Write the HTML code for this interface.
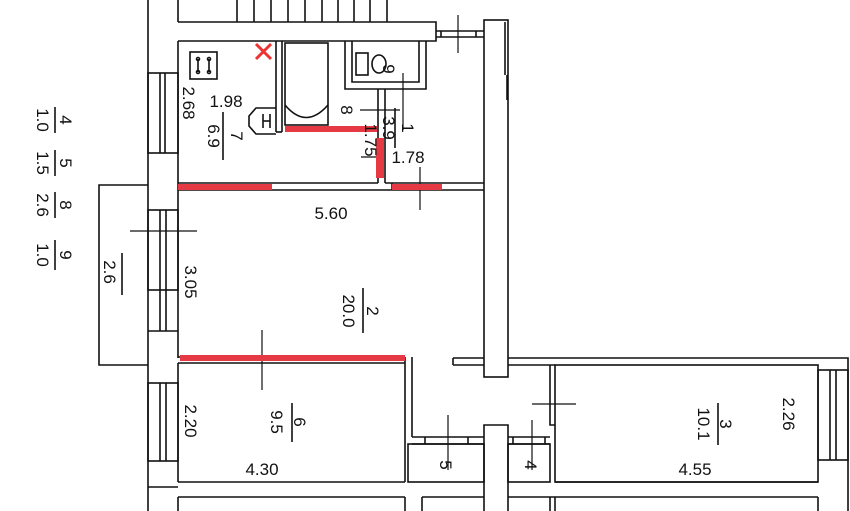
<!DOCTYPE html>
<html><head><meta charset="utf-8"><style>
html,body{margin:0;padding:0;background:#fff;}
svg{display:block;}
text{font-family:"Liberation Sans",sans-serif;fill:#111;}
</style></head><body>
<svg width="850" height="511" viewBox="0 0 850 511" xmlns="http://www.w3.org/2000/svg">
<g fill="none" stroke="#111" stroke-width="1.6">
<line x1="237" y1="0" x2="237" y2="22"/><line x1="254" y1="0" x2="254" y2="22"/><line x1="271" y1="0" x2="271" y2="22"/>
<line x1="288" y1="0" x2="288" y2="22"/><line x1="305" y1="0" x2="305" y2="22"/><line x1="322" y1="0" x2="322" y2="22"/>
<line x1="338" y1="0" x2="338" y2="22"/><line x1="354" y1="0" x2="354" y2="22"/><line x1="370" y1="0" x2="370" y2="22"/><line x1="387" y1="0" x2="387" y2="22"/>
<line x1="178" y1="0" x2="178" y2="22"/>
<polyline points="178,22 436,22 436,41 178,41"/>
<polyline points="436,31 484,31"/><polyline points="436,37 484,37"/>
<line x1="441" y1="31" x2="441" y2="37"/><line x1="476" y1="31" x2="476" y2="37"/>
<line x1="458" y1="15" x2="458" y2="53" stroke-width="1.2"/>
<line x1="148" y1="0" x2="148" y2="511"/>
<line x1="178" y1="41" x2="178" y2="190"/>
<line x1="178" y1="190" x2="178" y2="358"/>
<line x1="178" y1="363" x2="178" y2="482"/>
<rect x="148" y="73" width="30" height="80"/><line x1="160" y1="73" x2="160" y2="153"/><line x1="165" y1="73" x2="165" y2="153"/>
<rect x="148" y="210" width="30" height="80"/><line x1="160" y1="210" x2="160" y2="331"/><line x1="166" y1="210" x2="166" y2="331"/>
<line x1="148" y1="331" x2="178" y2="331"/>
<rect x="148" y="383" width="30" height="78"/><line x1="160" y1="383" x2="160" y2="461"/><line x1="166" y1="383" x2="166" y2="461"/>
<line x1="148" y1="487" x2="178" y2="487"/>
<polyline points="148,185 99,185 99,365 148,365"/>
<line x1="130" y1="231" x2="197" y2="231" stroke-width="1.2"/>
<line x1="276" y1="41" x2="276" y2="132"/><line x1="282" y1="41" x2="282" y2="132"/>
<line x1="276" y1="132" x2="282" y2="132"/>
<rect x="285" y="43" width="43" height="82"/>
<path d="M285,105 Q306,130 328,105"/>
<polyline points="345,41 345,89 426,89 426,41"/>
<polyline points="352,41 352,82 419,82 419,41"/>
<rect x="356" y="53" width="12" height="22"/>
<ellipse cx="379" cy="64" rx="7" ry="9"/>
<line x1="378" y1="89" x2="378" y2="183"/><line x1="385" y1="89" x2="385" y2="183"/>
<line x1="360" y1="110" x2="400" y2="110" stroke-width="1.2"/>
<line x1="403" y1="73" x2="403" y2="130" stroke-width="1.2"/>
<line x1="361" y1="157" x2="380" y2="157" stroke-width="1.2"/>
<line x1="420" y1="167" x2="420" y2="210" stroke-width="1.2"/>
<rect x="190" y="52" width="27" height="27"/>
<circle cx="198" cy="59" r="1.5"/><circle cx="209" cy="59" r="1.5"/><circle cx="198" cy="72" r="1.5"/><circle cx="209" cy="72" r="1.5"/>
<line x1="198" y1="59" x2="198" y2="72"/><line x1="209" y1="59" x2="209" y2="72"/>
<path d="M276,108 L256,108 L249,116 L249,126 L256,134 L276,134"/>
<line x1="263" y1="114" x2="263" y2="128"/><line x1="263" y1="121" x2="270" y2="121"/><line x1="270" y1="114" x2="270" y2="128"/>
<line x1="178" y1="183" x2="378" y2="183"/><line x1="178" y1="190" x2="392" y2="190"/>
<line x1="385" y1="183" x2="484" y2="183"/><line x1="392" y1="190" x2="484" y2="190"/>
<line x1="392" y1="183" x2="392" y2="190"/>
<rect x="484" y="20" width="24" height="357"/>
<line x1="505" y1="22" x2="505" y2="75"/><line x1="507" y1="75" x2="507" y2="100"/>
<line x1="178" y1="357" x2="405" y2="357"/><line x1="178" y1="363" x2="405" y2="363"/>
<line x1="405" y1="357" x2="405" y2="482"/><line x1="412" y1="357" x2="412" y2="437"/>
<line x1="262" y1="330" x2="262" y2="390" stroke-width="1.2"/>
<polyline points="453,358 484,358"/><polyline points="453,365 484,365"/><line x1="453" y1="358" x2="453" y2="365"/>
<line x1="508" y1="358" x2="818" y2="358"/><line x1="508" y1="365" x2="555" y2="365"/>
<polyline points="550,365 550,425 555,425"/>
<line x1="532" y1="404" x2="576" y2="404" stroke-width="1.2"/>
<rect x="555" y="365" width="263" height="117"/>
<polyline points="818,358 848,358 848,511"/>
<rect x="818" y="370" width="30" height="90"/><line x1="830" y1="370" x2="830" y2="460"/><line x1="836" y1="370" x2="836" y2="460"/>
<line x1="412" y1="437" x2="484" y2="437"/><line x1="412" y1="444" x2="484" y2="444"/>
<line x1="425" y1="437" x2="425" y2="444"/><line x1="468" y1="437" x2="468" y2="444"/>
<rect x="408" y="444" width="76" height="38"/>
<line x1="448" y1="415" x2="448" y2="470" stroke-width="1.2"/>
<polyline points="484,511 484,425 508,425 508,511"/>
<line x1="508" y1="437" x2="550" y2="437"/><line x1="508" y1="444" x2="550" y2="444"/>
<line x1="513" y1="437" x2="513" y2="444"/><line x1="545" y1="437" x2="545" y2="444"/>
<rect x="508" y="444" width="42" height="38"/>
<line x1="532" y1="420" x2="532" y2="470" stroke-width="1.2"/>
<line x1="178" y1="482" x2="405" y2="482"/>
<line x1="178" y1="497" x2="405" y2="497"/><line x1="178" y1="497" x2="178" y2="511"/><line x1="405" y1="497" x2="405" y2="511"/>
<line x1="422" y1="497" x2="484" y2="497"/><line x1="422" y1="497" x2="422" y2="511"/>
<line x1="508" y1="497" x2="818" y2="497"/><line x1="550" y1="497" x2="550" y2="511"/><line x1="555" y1="497" x2="555" y2="511"/><line x1="818" y1="497" x2="818" y2="511"/>
<line x1="555" y1="482" x2="818" y2="482"/>
<line x1="223" y1="112" x2="223" y2="160"/>
<line x1="395" y1="108" x2="395" y2="148"/>
<line x1="363" y1="288" x2="363" y2="333"/>
<line x1="292" y1="403" x2="292" y2="442"/>
<line x1="718" y1="403" x2="718" y2="445"/>
<line x1="55" y1="107" x2="55" y2="133"/><line x1="55" y1="150" x2="55" y2="176"/>
<line x1="55" y1="192" x2="55" y2="218"/><line x1="55" y1="240" x2="55" y2="270"/>
<line x1="122" y1="253" x2="122" y2="295"/>
</g>
<g fill="#e53a44">
<rect x="178" y="184" width="94" height="6"/>
<rect x="392" y="184" width="50" height="6"/>
<rect x="376" y="138" width="8" height="40"/>
<rect x="285" y="126" width="92" height="6"/>
<rect x="180" y="355" width="225" height="6"/>
</g>
<g stroke="#e33" stroke-width="3"><line x1="256" y1="44" x2="271" y2="59"/><line x1="271" y1="44" x2="256" y2="59"/></g>
<g font-size="17">
<text x="226" y="107" text-anchor="middle">1.98</text>
<text x="331" y="219" text-anchor="middle">5.60</text>
<text x="408" y="163" text-anchor="middle">1.78</text>
<text x="262" y="475" text-anchor="middle">4.30</text>
<text x="695" y="475" text-anchor="middle">4.55</text>
<text transform="translate(183,103) rotate(90)" text-anchor="middle">2.68</text>
<text transform="translate(208,136) rotate(90)" text-anchor="middle">6.9</text>
<text transform="translate(231,136) rotate(90)" text-anchor="middle">7</text>
<text transform="translate(383,69) rotate(90)" text-anchor="middle">9</text>
<text transform="translate(341,110) rotate(90)" text-anchor="middle">8</text>
<text transform="translate(383,128) rotate(90)" text-anchor="middle">3.9</text>
<text transform="translate(402,128) rotate(90)" text-anchor="middle">1</text>
<text transform="translate(365,140) rotate(90)" text-anchor="middle">1.75</text>
<text transform="translate(185,282) rotate(90)" text-anchor="middle">3.05</text>
<text transform="translate(343,311) rotate(90)" text-anchor="middle">20.0</text>
<text transform="translate(367,311) rotate(90)" text-anchor="middle">2</text>
<text transform="translate(185,421) rotate(90)" text-anchor="middle">2.20</text>
<text transform="translate(271,422) rotate(90)" text-anchor="middle">9.5</text>
<text transform="translate(294,422) rotate(90)" text-anchor="middle">6</text>
<text transform="translate(698,424) rotate(90)" text-anchor="middle">10.1</text>
<text transform="translate(720,424) rotate(90)" text-anchor="middle">3</text>
<text transform="translate(783,414) rotate(90)" text-anchor="middle">2.26</text>
<text transform="translate(440,465) rotate(90)" text-anchor="middle">5</text>
<text transform="translate(525,465) rotate(90)" text-anchor="middle">4</text>
<text transform="translate(104,272) rotate(90)" text-anchor="middle">2.6</text>
<text transform="translate(37,120) rotate(90)" text-anchor="middle">1.0</text>
<text transform="translate(60,120) rotate(90)" text-anchor="middle">4</text>
<text transform="translate(37,163) rotate(90)" text-anchor="middle">1.5</text>
<text transform="translate(60,163) rotate(90)" text-anchor="middle">5</text>
<text transform="translate(37,205) rotate(90)" text-anchor="middle">2.6</text>
<text transform="translate(60,205) rotate(90)" text-anchor="middle">8</text>
<text transform="translate(37,255) rotate(90)" text-anchor="middle">1.0</text>
<text transform="translate(60,255) rotate(90)" text-anchor="middle">9</text>
</g>
</svg>
</body></html>
